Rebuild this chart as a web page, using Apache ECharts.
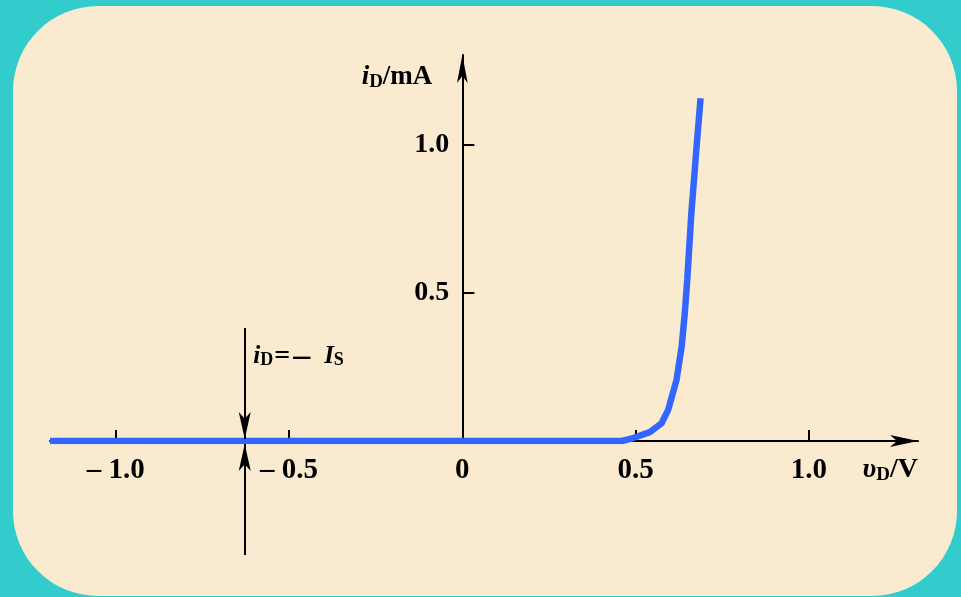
<!DOCTYPE html>
<html>
<head>
<meta charset="utf-8">
<script src="https://cdn.jsdelivr.net/npm/echarts@6/dist/echarts.min.js"></script>
<style>
  html, body { margin: 0; padding: 0; background: #33CCCC; }
  #card { position: absolute; left: 13px; top: 6px; width: 944px; height: 590px;
          border-radius: 85px; background: #FAEBD0; }
  #chart { position: absolute; left: 0; top: 0; width: 961px; height: 597px; }
</style>
</head>
<body>
<div id="card"></div>
<div id="chart"></div>
<script>
// Diode forward/reverse characteristic: i_D versus v_D
const vD = [-1.19, 0.46, 0.493, 0.541, 0.575, 0.594, 0.618, 0.633, 0.642, 0.649, 0.661, 0.676, 0.6875];
const iD = [0, 0, 0.01, 0.03, 0.06, 0.105, 0.206, 0.319, 0.432, 0.544, 0.77, 0.994, 1.158];

// Axis ticks and labels
const xTickValues = [-1.0, -0.5, 0.5, 1.0];
const xLabelValues = [-1.0, -0.5, 0, 0.5, 1.0];
const yTickValues = [0.5, 1.0];

// Reverse saturation current marker: vertical line at v = -0.628 with arrows pointing at the axis
const isMarkV = -0.628;
const isMarkTop = [0.382, 0.007];
const isMarkBottom = [-0.385, -0.01];
const isLabelAt = [-0.628, 0.284];

const X_MIN = -1.19, X_MAX = 1.315, Y_MIN = 0, Y_MAX = 1.304;
const GRID = { left: 50, right: 43, top: 55, bottom: 156 };
const CHART_W = 961;

const SERIF = "'Liberation Serif', 'Times New Roman', serif";

function fmtX(v) {
  if (Math.abs(v) < 1e-9) return '0';
  const s = Math.abs(v).toFixed(1);
  return v < 0 ? '– ' + s : s;
}

// shift the y axis (line, ticks, labels, name) to sit at v = 0
const gridW = CHART_W - GRID.left - GRID.right;
const yAxisOffset = -((0 - X_MIN) / (X_MAX - X_MIN)) * gridW;

const curve = vD.map((v, k) => [v, iD[k]]);

const chart = echarts.init(document.getElementById('chart'));
chart.setOption({
  backgroundColor: 'transparent',
  animation: false,
  grid: GRID,
  xAxis: {
    type: 'value',
    min: X_MIN,
    max: X_MAX,
    splitLine: { show: false },
    axisLine: {
      onZero: true,
      symbol: ['none', 'arrow'],
      symbolSize: [9, 28],
      lineStyle: { color: '#000', width: 2 }
    },
    axisTick: { show: true, inside: true, length: 11, customValues: xTickValues,
      lineStyle: { color: '#000', width: 2 } },
    axisLabel: {
      customValues: xLabelValues,
      formatter: fmtX,
      margin: 15,
      color: '#000',
      fontFamily: SERIF,
      fontWeight: 'bold',
      fontSize: 29
    },
    name: '{v|υ}{sub|D}{n|/V}',
    nameLocation: 'end',
    nameGap: 0,
    nameTextStyle: {
      align: 'right',
      verticalAlign: 'middle',
      padding: [58, 0, 0, 0],
      rich: {
        v: { fontFamily: SERIF, fontStyle: 'italic', fontWeight: 'bold', fontSize: 28, color: '#000' },
        sub: { fontFamily: SERIF, fontWeight: 'bold', fontSize: 19, color: '#000', padding: [10, 0, 0, 0] },
        n: { fontFamily: SERIF, fontWeight: 'bold', fontSize: 28, color: '#000' }
      }
    }
  },
  yAxis: {
    type: 'value',
    min: Y_MIN,
    max: Y_MAX,
    offset: yAxisOffset,
    splitLine: { show: false },
    axisLine: {
      onZero: false,
      symbol: ['none', 'arrow'],
      symbolSize: [8, 28],
      lineStyle: { color: '#000', width: 2 }
    },
    axisTick: { show: true, inside: true, length: 12, customValues: yTickValues,
      lineStyle: { color: '#000', width: 2 } },
    axisLabel: {
      customValues: yTickValues,
      formatter: v => v.toFixed(1),
      margin: 13,
      padding: [8, 0, 0, 0],
      color: '#000',
      fontFamily: SERIF,
      fontWeight: 'bold',
      fontSize: 28
    },
    name: '{i|i}{sub|D}{n|/mA}',
    nameLocation: 'end',
    nameGap: -22,
    nameTextStyle: {
      align: 'right',
      verticalAlign: 'middle',
      padding: [0, 30, 0, 0],
      rich: {
        i: { fontFamily: SERIF, fontStyle: 'italic', fontWeight: 'bold', fontSize: 27, color: '#000' },
        sub: { fontFamily: SERIF, fontWeight: 'bold', fontSize: 19, color: '#000', padding: [10, 0, 0, 0] },
        n: { fontFamily: SERIF, fontWeight: 'bold', fontSize: 27, color: '#000' }
      }
    }
  },
  series: [
    {
      type: 'line',
      data: curve,
      showSymbol: false,
      smooth: false,
      lineStyle: { color: '#3366FF', width: 6.5 },
      z: 5
    },
    {
      type: 'lines',
      coordinateSystem: 'cartesian2d',
      clip: false,
      symbol: ['none', 'arrow'],
      symbolSize: [[9, 27], [9, 27]],
      lineStyle: { color: '#000', width: 2, opacity: 1, curveness: 0 },
      data: [
        { coords: [[isMarkV, isMarkTop[0]], [isMarkV, isMarkTop[1]]] },
        { coords: [[isMarkV, isMarkBottom[0]], [isMarkV, isMarkBottom[1]]] }
      ],
      z: 6
    },
    {
      type: 'scatter',
      data: [isLabelAt],
      symbolSize: 1,
      itemStyle: { color: 'rgba(0,0,0,0)', opacity: 1 },
      emphasis: { disabled: true },
      silent: true,
      label: {
        show: true,
        position: 'right',
        distance: 8,
        color: '#000',
        opacity: 1,
        textBorderWidth: 0,
        formatter: '{i|i}{sub|D}{n|=}{d|–}{I|I}{sub|S}',
        rich: {
          i: { fontFamily: SERIF, fontStyle: 'italic', fontWeight: 'bold', fontSize: 25, color: '#000' },
          sub: { fontFamily: SERIF, fontWeight: 'bold', fontSize: 18, color: '#000', padding: [6, 0, 0, 0] },
          n: { fontFamily: SERIF, fontWeight: 'bold', fontSize: 28, color: '#000', padding: [0, 1, 0, 1] },
          d: { fontFamily: SERIF, fontWeight: 'bold', fontSize: 34, color: '#000', padding: [0, 14, 0, 2] },
          I: { fontFamily: SERIF, fontStyle: 'italic', fontWeight: 'bold', fontSize: 25, color: '#000' }
        }
      },
      z: 6
    }
  ]
});
</script>
</body>
</html>
